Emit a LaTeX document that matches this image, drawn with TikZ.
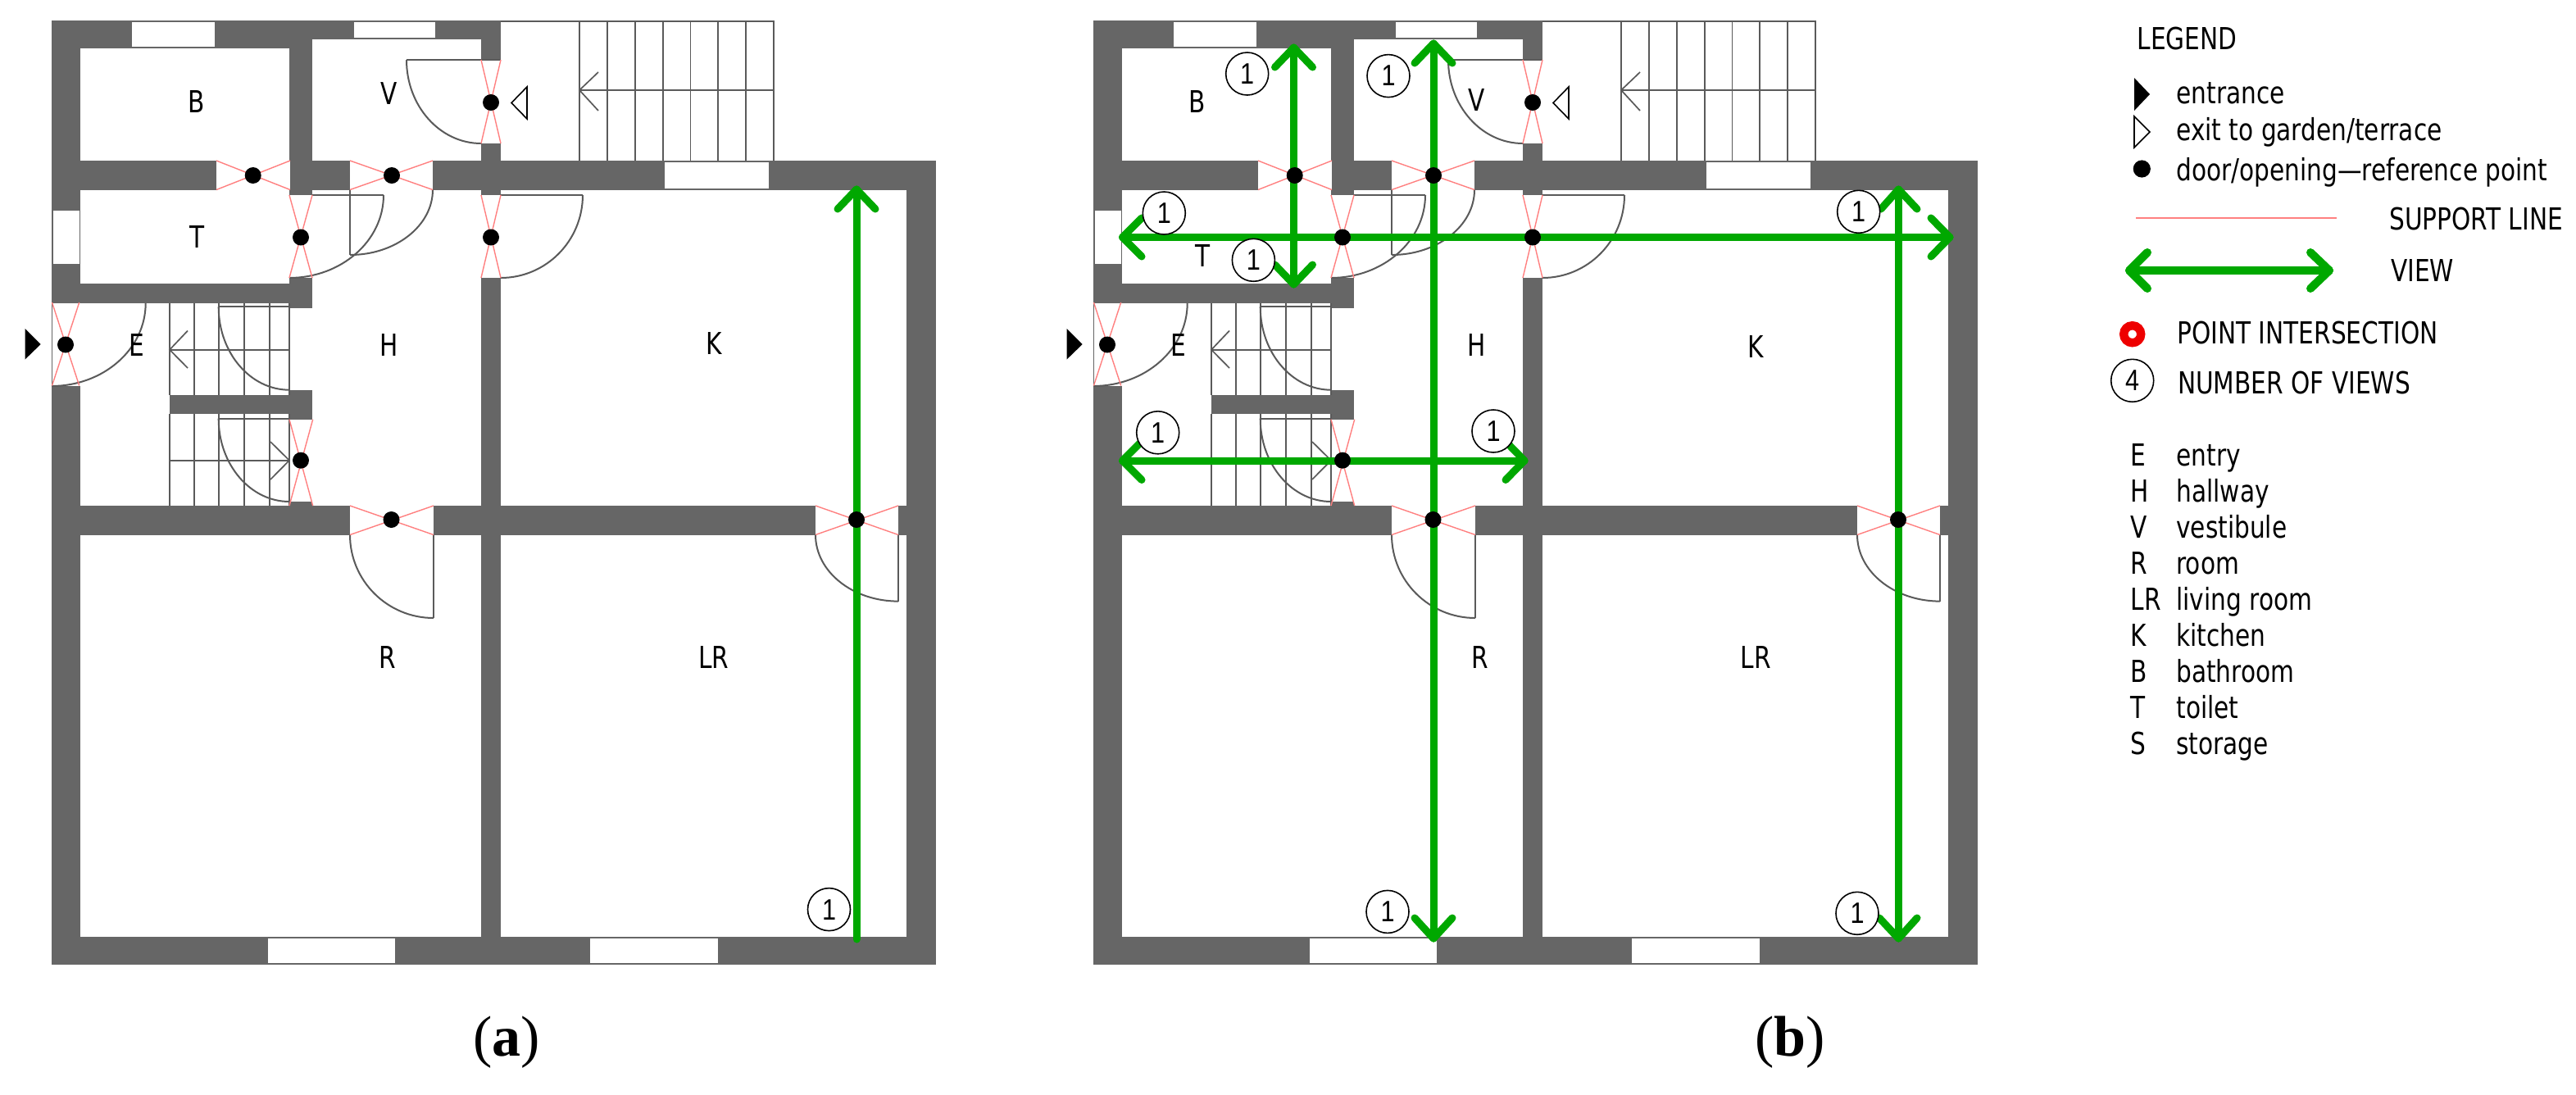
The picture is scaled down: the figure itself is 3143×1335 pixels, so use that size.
\documentclass[tikz,border=0pt]{standalone}
\usepackage{fontspec}
\setmainfont[FakeStretch=0.80]{DejaVu Sans}
\newfontfamily\capfont{Liberation Serif}
\newfontfamily\digitfont[FakeStretch=0.85]{Liberation Sans}
\usetikzlibrary{calc}
\definecolor{wallc}{HTML}{666666}
\definecolor{linec}{HTML}{5A5A5A}
\definecolor{supc}{HTML}{FF8080}
\definecolor{viewg}{HTML}{00A800}
\definecolor{ringr}{HTML}{EE0000}
\tikzset{
  wall/.style={fill=wallc,draw=none},
  gap/.style={fill=white,draw=none},
  rail/.style={draw=linec,line width=0.85pt},
  leaf/.style={draw=linec,line width=1pt},
  sup/.style={draw=supc,line width=0.7pt},
  viewline/.style={draw=viewg,line width=4.5pt,line cap=round,line join=round},
  dotmark/.style={circle,fill=black,inner sep=0pt,minimum size=10pt},
  viewcirc/.style={circle,draw=black,fill=white,line width=0.8pt,inner sep=0pt,minimum size=26pt,font=\digitfont\fontsize{18}{18}\selectfont},
  roomlabel/.style={font=\fontsize{18.5}{18.5}\selectfont,inner sep=0pt},
  legtext/.style={font=\fontsize{18.5}{18.5}\selectfont,inner sep=0pt,anchor=base west},
  captext/.style={font=\capfont\fontsize{35}{35}\selectfont,inner sep=0pt},
}
% quarter ellipse: start, corner of its bounding box, end
\newcommand\qarc[3]{\draw[leaf] (#1) .. controls ($(#1)!0.5523!(#2)$) and ($(#3)!0.5523!(#2)$) .. (#3);}
% crossed support lines of an opening: two opposite corners
\newcommand\supx[4]{\draw[sup] (#1,#2) -- (#3,#4);\draw[sup] (#1,#4) -- (#3,#2);}
\newcommand\floorplan{%
  \fill[wall] (62.5,25) rectangle (611,1176.6);
  \fill[wall] (611,196) rectangle (1141.6,1176.6);
  % rooms
  \fill[gap] (98,59) rectangle (353,196);
  \fill[gap] (381,47.5) rectangle (587,196);
  \fill[gap] (98,231.5) rectangle (353,346);
  \fill[gap] (381,231.5) rectangle (587,617);
  \fill[gap] (353,376) rectangle (381.7,475.7);
  \fill[gap] (611,231.5) rectangle (1105.6,617);
  \fill[gap] (98,370) rectangle (353,617);
  \fill[gap] (98,652.5) rectangle (587,1143);
  \fill[gap] (611,652.5) rectangle (1105.6,1143);
  % windows
  \fill[gap] (161,26.5) rectangle (261.5,57);
  \fill[gap] (432,26.5) rectangle (531,45.5);
  \fill[gap] (811,198) rectangle (937.5,229.5);
  \fill[gap] (64.5,257) rectangle (96.5,321.5);
  \fill[gap] (326.7,1145) rectangle (482,1175);
  \fill[gap] (720,1145) rectangle (876,1175);
  % door openings
  \fill[gap] (587,73) rectangle (611,175);
  \fill[gap] (264,196) rectangle (354,231.5);
  \fill[gap] (427,196) rectangle (528,231.5);
  \fill[gap] (353,238) rectangle (381,339);
  \fill[gap] (587,238) rectangle (611,339);
  \fill[gap] (63.5,370) rectangle (98,470.5);
  \fill[gap] (353,511.7) rectangle (381.7,612);
  \fill[gap] (427,617) rectangle (529,652.5);
  \fill[gap] (995,617) rectangle (1096,652.5);
  % upper stair
  \fill[gap] (611,26) rectangle (944,196);
  \draw[rail] (611,26) -- (944,26) -- (944,196);
  \foreach \sx in {707,741,775,809,842.5,876,910} {\draw[rail] (\sx,26) -- (\sx,196);}
  \draw[rail] (707,110) -- (944,110);
  \draw[rail] (730,88) -- (707,110) -- (730,135);
  % lower stairs
  \fill[wall] (206.7,481.7) rectangle (353,505);
  \foreach \sx in {206.7,236.7,267.3,298.3,329.3,353.3} {
    \draw[rail] (\sx,370) -- (\sx,481.7);
    \draw[rail] (\sx,505) -- (\sx,617);
  }
  \draw[rail] (206.7,426.7) -- (353,426.7);
  \draw[rail] (229,403.5) -- (207,426.7) -- (229,449);
  \draw[rail] (206.7,561.7) -- (353,561.7);
  \draw[rail] (330,539) -- (353,561.7) -- (330,585);
  % doors
  \draw[leaf] (611,73) -- (496,73); \qarc{496,73}{496,175}{587,175}
  \draw[leaf] (381,238) -- (468,238); \qarc{468,238}{468,339}{353,339}
  \draw[leaf] (427,231.5) -- (427,311); \qarc{427,311}{528,311}{528,231.5}
  \draw[leaf] (611,238) -- (711,238); \qarc{711,238}{711,339}{611,339}
  \qarc{177.7,370}{177.7,471}{63,471}
  \draw[leaf] (353,374.3) -- (266.7,374.3); \qarc{266.7,374.3}{266.7,475.7}{353,475.7}
  \draw[leaf] (353,510.7) -- (266.7,510.7); \qarc{266.7,510.7}{266.7,612}{353,612}
  \draw[leaf] (529,652.5) -- (529,754); \qarc{529,754}{427,754}{427,652.5}
  \draw[leaf] (1096,652.5) -- (1096,733.6); \qarc{1096,733.6}{995,733.6}{995,652.5}
  % support lines
  \supx{587}{73}{611}{175}
  \supx{264}{196}{354}{231.5}
  \supx{427}{196}{528}{231.5}
  \supx{353}{238}{381}{339}
  \supx{587}{238}{611}{339}
  \supx{63.5}{369}{96.7}{470.5}
  \supx{353}{511.7}{381.7}{617}
  \supx{427}{617}{529}{652.5}
  \supx{995}{617}{1096}{652.5}
  % entrance and exit marks
  \fill[black] (30.6,401) -- (30.6,438.5) -- (49.7,420) -- cycle;
  \draw[black,line width=0.8pt] (643,106) -- (643,145) -- (624,125.5) -- cycle;
}
\newcommand\refdots[1]{%
  \node[dotmark] (#1d1) at (599,125) {};
  \node[dotmark] (#1d2) at (308.7,214) {};
  \node[dotmark] (#1d3) at (478,214) {};
  \node[dotmark] (#1d4) at (367,289.5) {};
  \node[dotmark] (#1d5) at (599,289.5) {};
  \node[dotmark] (#1d6) at (80,420.5) {};
  \node[dotmark] (#1d7) at (367,561.7) {};
  \node[dotmark] (#1d8) at (477.5,634) {};
  \node[dotmark] (#1d9) at (1045,634) {};
}
\begin{document}
\begin{tikzpicture}[x=0.5pt,y=-0.5pt]
\useasboundingbox (0,0) rectangle (3143,1335);
% ---------- plan (a)
\floorplan
\draw[viewline] (1045,1146) -- (1045,231);
\draw[viewline] (1022,255) -- (1045,231) -- (1068,255);
\refdots{a}
\node[roomlabel] (aB) at (240,124) {B};
\node[roomlabel] (aV) at (475,114.5) {V};
\node[roomlabel] (aT) at (241,289.5) {T};
\node[roomlabel] (aE) at (166.5,421) {E};
\node[roomlabel] (aH) at (475,421) {H};
\node[roomlabel] (aK) at (871,419) {K};
\node[roomlabel] (aR) at (473,801.6) {R};
\node[roomlabel] (aLR) at (870.7,801.6) {LR};
\node[viewcirc] (ac1) at (1011.5,1109.6) {1};
\node[captext] (capa) at (618,1272) {(\textbf{a})};
% ---------- plan (b)
\begin{scope}[shift={(1271,0)}]
\floorplan
\end{scope}
% vertical views
\draw[viewline] (1578.5,58) -- (1578.5,347);
\draw[viewline] (1555.5,82) -- (1578.5,58) -- (1601.5,82);
\draw[viewline] (1555.5,323) -- (1578.5,347) -- (1601.5,323);
\draw[viewline] (1749,53) -- (1749,1145);
\draw[viewline] (1726,77) -- (1749,53) -- (1772,77);
\draw[viewline] (1726,1120) -- (1749,1145) -- (1772,1120);
\draw[viewline] (2316.4,231) -- (2316.4,1145);
\draw[viewline] (2295,255) -- (2316.4,231) -- (2339,255);
\draw[viewline] (2293,1120) -- (2316.4,1145) -- (2339,1120);
% horizontal views
\draw[viewline] (1369.5,289.5) -- (2379,289.5);
\draw[viewline] (1393,266) -- (1369.5,289.5) -- (1393,313);
\draw[viewline] (2356,266) -- (2379,289.5) -- (2356,313);
\draw[viewline] (1369.5,562) -- (1860,562);
\draw[viewline] (1393,538.5) -- (1369.5,562) -- (1393,585.5);
\draw[viewline] (1837,538.5) -- (1860,562) -- (1837,585.5);
\node[viewcirc] (bc1) at (1521.7,90) {1};
\node[viewcirc] (bc2) at (1694,92.6) {1};
\node[viewcirc] (bc3) at (1420.3,260) {1};
\node[viewcirc] (bc4) at (1529.4,317.3) {1};
\node[viewcirc] (bc5) at (1412.7,527.8) {1};
\node[viewcirc] (bc6) at (1822,526) {1};
\node[viewcirc] (bc7) at (2267.7,258.3) {1};
\node[viewcirc] (bc8) at (1693,1112.4) {1};
\node[viewcirc] (bc9) at (2266,1114.3) {1};
\begin{scope}[shift={(1271,0)}]
\refdots{b}
\end{scope}
\node[roomlabel] (bB) at (1461,124) {B};
\node[roomlabel] (bV) at (1802,122) {V};
\node[roomlabel] (bT) at (1467.5,312) {T};
\node[roomlabel] (bE) at (1437.5,421) {E};
\node[roomlabel] (bH) at (1802,421) {H};
\node[roomlabel] (bK) at (2142,423) {K};
\node[roomlabel] (bR) at (1805.5,801.6) {R};
\node[roomlabel] (bLR) at (2142.5,801.6) {LR};
\node[captext] (capb) at (2184,1272) {(\textbf{b})};
% ---------- legend
\node[legtext] (l0) at (2607.3,60.7) {LEGEND};
\fill[black] (2604,95) -- (2604,135) -- (2623,115) -- cycle;
\node[legtext] (l1) at (2655,126.7) {entrance};
\draw[black,line width=0.8pt] (2604,142) -- (2604,180) -- (2623,161) -- cycle;
\node[legtext] (l2) at (2655,171.7) {exit to garden/terrace};
\node[dotmark,minimum size=10.6pt] (ld) at (2613.3,206) {};
\node[legtext] (l3) at (2655,220) {door/opening—reference point};
\coordinate (sa) at (2606,266);
\coordinate (sb) at (2850.7,266);
\draw[sup] (sa) -- (sb);
\node[legtext] (l4) at (2915,280) {SUPPORT LINE};
\draw[viewline,line width=5pt] (2598,330) -- (2842,330);
\draw[viewline,line width=5pt] (2620,308) -- (2598,330) -- (2620,352);
\draw[viewline,line width=5pt] (2819,308) -- (2842,330) -- (2819,352);
\node[legtext] (l5) at (2916.7,343.3) {VIEW};
\draw[ringr,line width=5.2pt] (2601.7,407.7) circle[radius=10.5];
\node[legtext] (l6) at (2656,419.7) {POINT INTERSECTION};
\node[viewcirc] (lc) at (2601.7,464.3) {4};
\node[legtext] (l7) at (2656.7,480) {NUMBER OF VIEWS};
\foreach \k/\lab/\txt [count=\i from 0] in {E/E/entry,H/H/hallway,V/V/vestibule,R/R/room,LR/LR/living room,K/K/kitchen,B/B/bathroom,T/T/toilet,S/S/storage}{
  \node[legtext] (lk\k) at (2599.3,568.8+44*\i) {\lab};
  \node[legtext] (lt\k) at (2655,568.8+44*\i) {\txt};
}
\end{tikzpicture}
\end{document}
